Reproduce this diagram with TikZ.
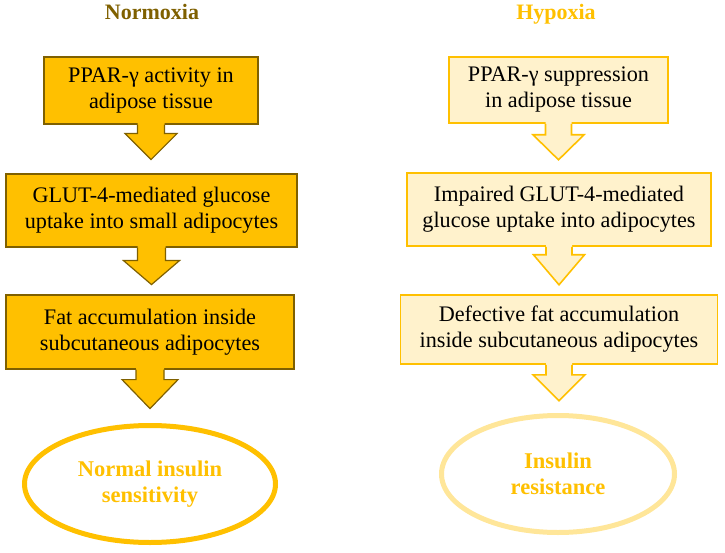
\documentclass[tikz,border=0pt]{standalone}
\usepackage{fontspec}
\setmainfont{Liberation Serif}
\usetikzlibrary{shapes.geometric}
\definecolor{goldL}{HTML}{FFC000}
\definecolor{darkgold}{HTML}{7F6000}
\definecolor{paleY}{HTML}{FFF2CC}
\definecolor{lightgold}{HTML}{FFE699}
\tikzset{
  boxtext/.style={font=\rmfamily\fontsize{22.2}{26}\selectfont, align=center, text=black, inner sep=0pt},
  normbox/.style={boxtext, fill=goldL, draw=darkgold, line width=1.2pt},
  hypbox/.style={boxtext, fill=paleY, draw=goldL, line width=1.6pt},
  titletext/.style={font=\rmfamily\fontsize{22}{25}\selectfont\bfseries, anchor=base},
  outcome/.style={ellipse, inner sep=0pt, line width=5pt, fill=white, align=center,
    font=\rmfamily\fontsize{22.5}{25.5}\selectfont\bfseries, text=goldL},
}
% #1 node, #2 stem half width, #3 head half width, #4 stem length, #5 head length, #6 fill, #7 draw, #8 line width
\newcommand\calloutarrow[8]{%
  \fill[#6] ([xshift=-#2pt,yshift=2pt]#1.south) -- ++(0,#4+2) -- ++(-#3+#2,0) -- ++(#3,#5)
    -- ++(#3,-#5) -- ++(-#3+#2,0) -- ++(0,-#4-2) -- cycle;
  \draw[#7, line width=#8, line join=miter] ([xshift=-#2pt]#1.south) -- ++(0,#4) -- ++(-#3+#2,0) -- ++(#3,#5)
    -- ++(#3,-#5) -- ++(-#3+#2,0) -- ++(0,-#4);
}
\begin{document}
\begin{tikzpicture}[x=1pt, y=-1pt]
\useasboundingbox (0,0) rectangle (725,553);

% titles
\node[titletext, text=darkgold] (tN) at (152,20) {Normoxia};
\node[titletext, text=goldL] (tH) at (556,19.5) {Hypoxia};

% Normoxia column
\node[normbox, minimum width=214pt, minimum height=67pt] (a1) at (151,90.5)
  {PPAR-γ activity in\\adipose tissue};
\node[normbox, minimum width=291pt, minimum height=73pt] (a2) at (151.5,210.5)
  {GLUT-4-mediated glucose\\uptake into small adipocytes};
\node[normbox, minimum width=288pt, minimum height=74pt] (a3) at (150,332)
  {Fat accumulation inside\\subcutaneous adipocytes};
\calloutarrow{a1}{13.5}{26}{9}{26}{goldL}{darkgold}{1.2pt}
\calloutarrow{a2}{14}{28}{13}{24}{goldL}{darkgold}{1.2pt}
\calloutarrow{a3}{14}{28}{10}{29}{goldL}{darkgold}{1.2pt}
\node[outcome, draw=goldL, minimum width=251pt, minimum height=117pt] (e1) at (150,484)
  {Normal insulin\\sensitivity};

% Hypoxia column
\node[hypbox, minimum width=219pt, minimum height=66pt] (b1) at (558.5,90)
  {PPAR-γ suppression\\in adipose tissue};
\node[hypbox, minimum width=304pt, minimum height=73pt] (b2) at (559,209.5)
  {Impaired GLUT-4-mediated\\glucose uptake into adipocytes};
\node[hypbox, minimum width=317pt, minimum height=69pt] (b3) at (559,329.5)
  {Defective fat accumulation\\inside subcutaneous adipocytes};
\calloutarrow{b1}{13}{25.5}{11}{25}{paleY}{goldL}{1.6pt}
\calloutarrow{b2}{13}{25.5}{8}{30}{paleY}{goldL}{1.6pt}
\calloutarrow{b3}{13}{26}{10}{26}{paleY}{goldL}{1.6pt}
\node[outcome, draw=lightgold, minimum width=233pt, minimum height=117pt] (e2) at (558,474)
  {Insulin\\resistance};
\end{tikzpicture}
\end{document}
